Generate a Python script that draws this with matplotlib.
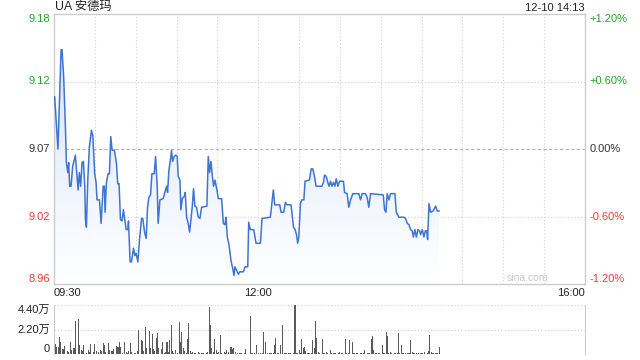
import matplotlib
matplotlib.use("Agg")
import matplotlib.pyplot as plt
import numpy as np
from matplotlib.patches import Polygon
import matplotlib.transforms as mtransforms

plt.rcParams['font.family'] = ['Liberation Sans', 'Noto Sans CJK SC', 'DejaVu Sans']

title = "UA 安德玛"
stamp = "12-10 14:13"
prev_close = 9.07
price_ticks = [9.18, 9.12, 9.07, 9.02, 8.96]
pct_ticks = ["+1.20%", "+0.60%", "0.00%", "-0.60%", "-1.20%"]
time_labels = ["09:30", "12:00", "16:00"]
time_label_pos = [0, 150, 390]
vol_ticks = [44000, 22000, 0]
vol_tick_labels = ["4.40万", "2.20万", "0"]

# minutes after 09:30 and price
t_price = [0.5, 2.9, 5.2, 5.9, 7.1, 8.3, 9.1, 10.1, 10.8, 11.5, 12.5, 13.7, 15.7, 16.9, 17.7,
           18.6, 19.6, 20.6, 21.6, 22.6, 23.1, 23.8, 24.8, 26.0, 27.5, 28.5, 29.9, 30.9, 31.6,
           33.4, 34.6, 36.1, 37.0, 37.5, 38.5, 39.7, 40.7, 41.7, 42.7, 44.4, 45.9, 46.8, 47.8,
           48.8, 50.0, 51.0, 52.0, 53.0, 54.2, 54.7, 55.9, 56.9, 58.4, 59.4, 60.3, 61.6, 62.8,
           64.3, 65.2, 66.5, 67.7, 68.7, 69.7, 70.9, 71.9, 73.6, 74.6, 75.8, 76.5, 77.8, 80.2,
           81.4, 82.7, 83.4, 84.4, 85.6, 86.3, 87.1, 88.3, 89.5, 90.5, 91.2, 92.5, 93.2, 94.2,
           95.7, 96.4, 97.4, 98.6, 99.6, 100.6, 101.5, 102.5, 103.5, 104.7, 106.0, 107.2, 108.4,
           112.3, 113.3, 114.3, 115.3, 116.3, 117.2, 118.2, 119.5, 120.7, 123.1, 124.4, 125.6,
           126.3, 127.3, 128.5, 130.0, 131.2, 132.2, 132.9, 134.2, 135.4, 136.6, 139.1, 140.3,
           142.3, 143.0, 144.2, 146.7, 148.4, 151.6, 152.8, 158.9, 159.9, 161.1, 162.1, 165.8,
           166.8, 168.7, 170.0, 171.2, 174.1, 175.9, 177.1, 178.1, 179.0, 179.8, 181.0, 182.0,
           183.5, 184.4, 187.6, 188.9, 190.1, 191.3, 192.5, 196.7, 197.9, 198.7, 199.9, 201.1,
           202.1, 203.1, 204.1, 205.3, 206.3, 207.3, 208.5, 209.7, 212.6, 213.4, 215.3, 216.5,
           217.8, 219.5, 223.9, 225.1, 226.3, 228.8, 230.0, 231.2, 232.5, 241.8, 242.8, 243.8,
           244.7, 246.0, 247.2, 250.4, 251.4, 253.3, 257.0, 258.2, 259.5, 260.7, 261.9, 263.1,
           263.9, 265.1, 266.1, 267.3, 268.5, 269.3, 270.5, 271.7, 272.7, 273.7, 274.4, 275.4,
           276.6, 278.4, 280.3, 281.5, 282.8]
price = [9.112, 9.070, 9.150, 9.150, 9.128, 9.091, 9.059, 9.051, 9.059, 9.040, 9.040, 9.056,
         9.065, 9.048, 9.037, 9.051, 9.040, 9.059, 9.060, 9.040, 9.013, 9.007, 9.045, 9.072,
         9.085, 9.081, 9.050, 9.043, 9.029, 9.029, 9.010, 9.040, 9.040, 9.019, 9.043, 9.050,
         9.050, 9.080, 9.069, 9.069, 9.058, 9.042, 9.042, 9.013, 9.012, 9.021, 9.013, 9.005,
         9.005, 9.012, 8.979, 8.979, 8.990, 8.984, 8.986, 8.979, 8.997, 9.014, 9.014, 9.003,
         8.998, 9.023, 9.031, 9.033, 9.050, 9.050, 9.064, 9.040, 9.010, 9.029, 9.030, 9.035,
         9.040, 9.035, 9.053, 9.062, 9.069, 9.060, 9.064, 9.065, 9.064, 9.048, 9.045, 9.021,
         9.030, 9.032, 9.035, 9.015, 9.010, 9.003, 9.014, 9.023, 9.038, 9.024, 9.023, 9.015,
         9.014, 9.023, 9.024, 9.064, 9.051, 9.060, 9.048, 9.040, 9.045, 9.038, 9.030, 9.030,
         9.010, 9.009, 9.015, 8.999, 8.993, 8.980, 8.974, 8.968, 8.975, 8.972, 8.969, 8.971,
         8.971, 8.975, 8.975, 9.011, 9.005, 9.005, 8.994, 8.994, 9.014, 9.015, 9.025, 9.037,
         9.025, 9.025, 9.019, 9.019, 9.027, 9.025, 9.025, 9.007, 9.005, 9.001, 8.994, 8.999,
         9.026, 9.029, 9.029, 9.044, 9.045, 9.054, 9.054, 9.048, 9.040, 9.040, 9.043, 9.049,
         9.048, 9.043, 9.040, 9.044, 9.040, 9.043, 9.040, 9.046, 9.040, 9.044, 9.044, 9.035,
         9.034, 9.023, 9.029, 9.034, 9.034, 9.029, 9.034, 9.034, 9.031, 9.023, 9.034, 9.033,
         9.021, 9.019, 9.034, 9.029, 9.034, 9.034, 9.019, 9.015, 9.015, 9.014, 9.010, 9.009,
         9.005, 9.004, 8.999, 9.005, 8.999, 9.005, 9.004, 9.001, 9.005, 8.999, 9.004, 9.004,
         8.997, 9.026, 9.019, 9.020, 9.024, 9.020, 9.020]

vol_t = [1, 2, 3, 4, 5, 6, 7, 8, 10, 11, 12, 13, 14, 15, 16, 18, 19, 20, 21, 22, 24, 25, 26, 27,
         29, 30, 31, 33, 34, 35, 36, 37, 38, 40, 41, 42, 43, 44, 46, 47, 48, 49, 50, 52, 53, 54,
         55, 56, 57, 59, 60, 61, 62, 64, 65, 66, 67, 68, 70, 71, 72, 73, 74, 75, 76, 77, 79, 80,
         81, 82, 83, 84, 85, 86, 87, 88, 89, 91, 92, 93, 94, 95, 96, 97, 98, 99, 100, 101, 102,
         103, 104, 106, 107, 108, 109, 110, 112, 113, 114, 115, 116, 117, 118, 119, 120, 121,
         122, 123, 125, 126, 127, 128, 130, 131, 132, 133, 135, 136, 137, 138, 140, 141,
         144, 145, 146, 147, 149, 150, 152, 153, 154, 155, 157, 158, 159, 160, 161, 162, 163,
         164, 165, 166, 168, 169, 170, 171, 172, 173, 174, 176, 177, 178, 179, 180, 181, 182,
         183, 184, 185, 186, 187, 188, 189, 190, 191, 192, 193, 194, 195, 197, 198, 199, 200,
         201, 203, 204, 205, 206, 207, 209, 210, 211, 212, 214, 215, 216, 217, 219, 220, 221,
         222, 223, 225, 226, 227, 228, 230, 231, 232, 233, 234, 235, 236, 237, 238, 239, 241,
         242, 243, 244, 245, 246, 247, 248, 250, 251, 252, 253, 254, 255, 256, 257, 258, 260,
         261, 262, 263, 264, 265, 266, 268, 269, 270, 271, 272, 274, 275, 276, 277, 278, 279,
         280, 281, 282, 283]
vol = [9000, 6600, 6600, 15000, 10800, 4200, 4200, 7200, 3000, 2100, 10800, 3600, 5700, 5100,
       29600, 31400, 8000, 3600, 3000, 8000, 600, 3600, 2100, 9000, 2100, 9000, 2700, 1500,
       3600, 3000, 9900, 8000, 2100, 9600, 3600, 3000, 3000, 4200, 7500, 6000, 10800, 6600,
       1200, 10800, 2100, 1200, 3000, 9900, 1500, 600, 1200, 2700, 21500, 12600, 12000, 3000,
       24500, 5700, 20600, 5100, 17900, 4200, 2700, 14400, 18500, 5100, 4200, 10800, 1200,
       1500, 10800, 1500, 12600, 26000, 3000, 1200, 3600, 1200, 28700, 10800, 19700, 5700,
       3000, 1200, 13200, 27800, 3000, 1200, 2100, 1200, 1200, 2100, 600, 1200, 900, 600,
       1200, 2100, 41900, 26000, 5100, 2100, 13200, 3600, 1200, 1500, 17300, 1200, 2100, 600,
       3600, 2100, 6600, 4200, 5100, 1500, 1200, 600, 600, 600, 600, 4200,
       34100, 1200, 1200, 600, 8000, 600, 600, 600, 20000, 10800, 600, 600, 1200, 1200, 1200,
       8000, 14700, 1200, 1200, 8400, 26000, 1200, 1200, 600, 600, 600, 600, 1200, 44000,
       1200, 600, 3600, 600, 13500, 5100, 6600, 3000, 1200, 600, 600, 1200, 12600, 5400,
       29900, 14400, 2100, 1200, 13500, 1200, 1200, 1500, 1200, 3600, 1200, 600, 600, 600,
       1200, 2100, 1200, 600, 13500, 600, 600, 12600, 10800, 600, 1200, 1200, 1200, 1200,
       1200, 1200, 3600, 1200, 1200, 600, 13500, 16100, 3600, 1200, 600, 1200, 600, 8000,
       600, 1200, 19700, 16100, 1200, 2100, 1200, 600, 600, 600, 18800, 600, 8000, 1200,
       1200, 600, 600, 600, 12600, 2100, 1200, 600, 1200, 600, 600, 1200, 1200, 2100, 1200,
       3000, 17000, 2100, 600, 600, 600, 600, 600, 6000]

W, H = 640, 360
fig = plt.figure(figsize=(W / 100, H / 100), dpi=100)
fig.patch.set_facecolor('white')

def fx(px):
    return px / W

def fy(py):
    return 1 - py / H

ax = fig.add_axes([fx(54), fy(284), fx(585) - fx(54), fy(14) - fy(284)])
axv = fig.add_axes([fx(54), fy(354), fx(585) - fx(54), fy(305) - fy(354)])

ymin = prev_close * (1 - 0.012)
ymax = prev_close * (1 + 0.012)
ax.set_xlim(0, 390)
ax.set_ylim(ymin, ymax)

line_color = '#3f74d2'
grid_color = '#cfcfcf'

# grid
for m in range(30, 390, 30):
    ax.axvline(m, color=grid_color, lw=0.8, ls=(0, (1, 2)), zorder=1)
for v in [prev_close * 1.006, prev_close * 0.994]:
    ax.axhline(v, color=grid_color, lw=0.8, ls=(0, (1, 2)), zorder=1)
ax.axhline(prev_close, color='#b5b5b5', lw=0.8, ls=(0, (3, 2)), zorder=1)

# gradient fill
tp = np.array(t_price)
pp = np.array(price)
verts = [(tp[0], ymin)] + list(zip(tp, pp)) + [(tp[-1], ymin)]
poly = Polygon(verts, closed=True, facecolor='none', edgecolor='none')
ax.add_patch(poly)
grad = np.linspace(0, 1, 256).reshape(-1, 1)
c_top = np.array([0.85, 0.90, 0.98])
c_bot = np.array([1.0, 1.0, 1.0])
img = c_top[None, None, :] * (1 - grad[:, :, None]) + c_bot[None, None, :] * grad[:, :, None]
im = ax.imshow(img, extent=[tp[0], tp[-1], ymin, pp.max()], origin='upper',
               aspect='auto', zorder=2, interpolation='bilinear')
im.set_clip_path(poly)
ax.plot(tp, pp, color=line_color, lw=1.1, zorder=3, solid_joinstyle='round')

ax.set_xticks([])
ax.set_yticks([])
for s in ax.spines.values():
    s.set_color('#cccccc')
    s.set_linewidth(1.0)

fs = 8
green = '#1ea81e'
red = '#f03c3c'
dark = '#333333'
colors = [green, green, dark, red, red]
pct_vals = [ymax, prev_close * 1.006, prev_close, prev_close * 0.994, ymin]
trans_l = mtransforms.blended_transform_factory(ax.transAxes, ax.transData)
for i, (lab, pl, c, v) in enumerate(zip(price_ticks, pct_ticks, colors, pct_vals)):
    va = 'center'
    if i == 0:
        va = 'top'
    elif i == len(price_ticks) - 1:
        va = 'bottom'
    ax.text(-0.008, v, f"{lab:.2f}", transform=trans_l, ha='right', va=va, fontsize=fs, color=c)
    ax.text(1.008, v, pl, transform=trans_l, ha='left', va=va, fontsize=fs, color=c)

ax.text(0.002, 1.004, title, transform=ax.transAxes, ha='left', va='bottom', fontsize=8.8, color='#222222')
ax.text(1.0, 1.004, stamp, transform=ax.transAxes, ha='right', va='bottom', fontsize=8, color='#222222')
ax.text(0.93, 0.005, "sina.com", transform=ax.transAxes, ha='right', va='bottom', fontsize=7.5, color='#c8c8c8')

trans_x = mtransforms.blended_transform_factory(ax.transData, ax.transAxes)
for lab, pos in zip(time_labels, time_label_pos):
    ha = 'left' if pos == 0 else ('right' if pos == 390 else 'center')
    ax.text(pos, -0.015, lab, transform=trans_x, ha=ha, va='top', fontsize=fs, color='#222222')

# volume
axv.set_xlim(0, 390)
axv.set_ylim(0, vol_ticks[0])
axv.bar(vol_t, vol, width=0.75, color='#5a5a5a', zorder=3)
for v in vol_ticks:
    axv.axhline(v, color=grid_color, lw=0.8, ls=(0, (1, 2)), zorder=1)
axv.set_xticks([])
axv.set_yticks([])
for k, s in axv.spines.items():
    if k in ('top', 'bottom'):
        s.set_visible(False)
    else:
        s.set_color('#cccccc')
trans_v = mtransforms.blended_transform_factory(axv.transAxes, axv.transData)
for i, (v, lab) in enumerate(zip(vol_ticks, vol_tick_labels)):
    va = 'top' if i == 0 else ('bottom' if i == len(vol_ticks) - 1 else 'center')
    axv.text(-0.008, v, lab, transform=trans_v, ha='right', va=va, fontsize=fs, color='#222222')

fig.savefig('out.png', dpi=100)
